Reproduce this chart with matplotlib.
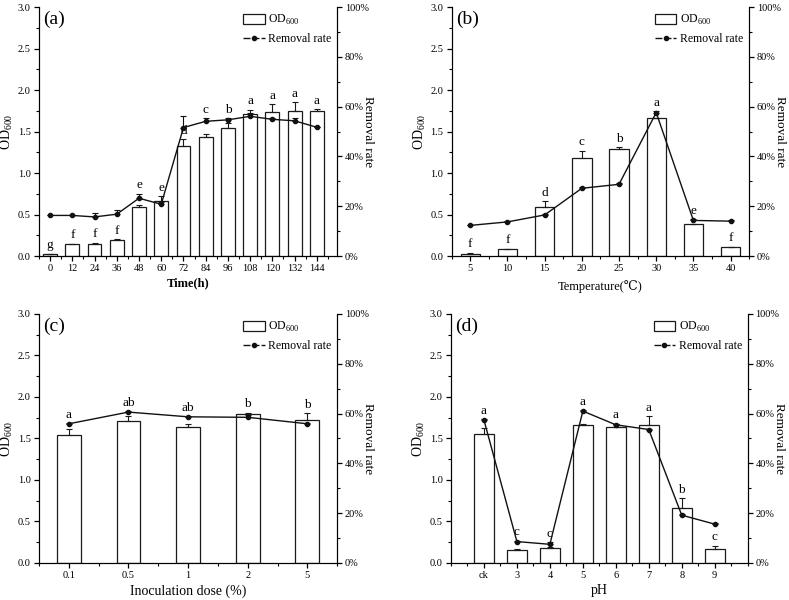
import numpy as np
import matplotlib
matplotlib.use("Agg")
import matplotlib.pyplot as plt
from matplotlib.patches import Patch
from matplotlib.lines import Line2D
from matplotlib.ticker import FuncFormatter, MultipleLocator

plt.rcParams['font.family'] = ['Liberation Serif', 'DejaVu Serif']
plt.rcParams['mathtext.fontset'] = 'custom'
plt.rcParams['mathtext.rm'] = 'Liberation Serif'

# -------------------------------
# (a) culture time
# -------------------------------
time_h = [0, 12, 24, 36, 48, 60, 72, 84, 96, 108, 120, 132, 144]
a_od = [0.02, 0.14, 0.15, 0.19, 0.59, 0.66, 1.32, 1.44, 1.54, 1.71, 1.74, 1.75, 1.75]
a_od_err = [0.005, 0.005, 0.01, 0.01, 0.025, 0.06, 0.09, 0.025, 0.06, 0.05, 0.09, 0.10, 0.02]
a_rate = [16.3, 16.3, 15.7, 16.8, 23.2, 20.8, 51.6, 54.1, 54.7, 56.1, 54.9, 54.3, 51.7]
a_rate_err = [0.3, 0.3, 1.5, 1.6, 1.9, 0.8, 4.7, 1.2, 0.7, 1.2, 0.7, 1.3, 0.3]
a_letters = ['g', 'f', 'f', 'f', 'e', 'e', 'd', 'c', 'b', 'a', 'a', 'a', 'a']

# -------------------------------
# (b) temperature
# -------------------------------
temp_c = [5, 10, 15, 20, 25, 30, 35, 40]
b_od = [0.03, 0.08, 0.59, 1.18, 1.29, 1.66, 0.39, 0.11]
b_od_err = [0.01, 0.01, 0.07, 0.09, 0.02, 0.0, 0.0, 0.0]
b_rate = [12.3, 13.7, 16.5, 27.2, 28.8, 57.6, 14.3, 14.0]
b_rate_err = [0.3, 0.4, 0.4, 0.5, 0.5, 0.5, 0.5, 0.3]
b_letters = ['f', 'f', 'd', 'c', 'b', 'a', 'e', 'f']

# -------------------------------
# (c) inoculation dose
# -------------------------------
dose_labels = ['0.1', '0.5', '1', '2', '5']
c_od = [1.54, 1.71, 1.64, 1.79, 1.72]
c_od_err = [0.075, 0.06, 0.035, 0.02, 0.085]
c_rate = [55.9, 60.6, 58.7, 58.5, 55.9]
c_rate_err = [0.3, 0.3, 0.3, 0.8, 0.5]
c_letters = ['a', 'ab', 'ab', 'b', 'b']

# -------------------------------
# (d) pH
# -------------------------------
ph_labels = ['ck', '3', '4', '5', '6', '7', '8', '9']
d_od = [1.56, 0.16, 0.18, 1.66, 1.64, 1.66, 0.66, 0.17]
d_od_err = [0.07, 0.01, 0.01, 0.01, 0.04, 0.11, 0.12, 0.04]
d_rate = [57.4, 8.6, 7.5, 61.0, 55.5, 53.6, 19.2, 15.6]
d_rate_err = [0.3, 0.4, 0.8, 0.3, 0.4, 0.3, 0.3, 0.3]
d_letters = ['a', 'c', 'c', 'a', 'a', 'a', 'b', 'c']


def pct(v, pos):
    return f"{v:.0f}%"


def draw_panel(rect, x, od, od_err, rate, rate_err, letters, width, xlim,
               minor, tag, xlabel, xlabel_kw, ticklabels=None):
    ax = fig.add_axes(rect)
    x = np.asarray(x, dtype=float)
    od = np.asarray(od)
    od_err = np.asarray(od_err)
    rate = np.asarray(rate)
    rate_err = np.asarray(rate_err)

    ax.bar(x, od, width=width, color='white', edgecolor='#1a1a1a', linewidth=0.9,
           yerr=[np.zeros_like(od_err), od_err],
           error_kw=dict(ecolor='#1a1a1a', elinewidth=0.8, capsize=2, capthick=0.8))
    ax.set_xlim(*xlim)
    ax.set_ylim(0, 3.0)
    ax.yaxis.set_major_locator(MultipleLocator(0.5))
    ax.yaxis.set_minor_locator(MultipleLocator(0.25))
    ax.yaxis.set_major_formatter(FuncFormatter(lambda v, p: f"{v:.1f}"))
    ax.set_xticks(x)
    if ticklabels is not None:
        ax.set_xticklabels(ticklabels)
    ax.xaxis.set_minor_locator(MultipleLocator(minor))
    ax.set_ylabel(r'OD$_{600}$', fontsize=10, labelpad=2)
    ax.set_xlabel(xlabel, **xlabel_kw)
    ax.spines['top'].set_visible(False)
    ax.tick_params(which='major', direction='out', length=3.5, width=0.9,
                   labelsize=7.5, pad=2.5)
    ax.tick_params(which='minor', direction='out', length=2, width=0.8)

    # significance letters above bar (or above the curve when it sits just over the bar)
    for xi, b, be, r, re, lt in zip(x, od, od_err, rate, rate_err, letters):
        bar_top = b + be
        line_top = (r + re) * 3.0 / 100
        y = line_top if bar_top <= line_top <= bar_top + 0.25 else bar_top
        ax.text(xi, y + 0.03, lt, ha='center', va='bottom', fontsize=9.5)

    ax2 = ax.twinx()
    ax2.errorbar(x, rate, yerr=[np.zeros_like(rate_err), rate_err], color='#111111',
                 linewidth=1.0, marker='o', markersize=3, elinewidth=0.8,
                 capsize=2, capthick=0.8)
    ax2.set_ylim(0, 100)
    ax2.yaxis.set_major_locator(MultipleLocator(20))
    ax2.yaxis.set_minor_locator(MultipleLocator(10))
    ax2.yaxis.set_major_formatter(FuncFormatter(pct))
    ax2.spines['top'].set_visible(False)
    ax2.tick_params(which='major', direction='out', length=3.5, width=0.9,
                    labelsize=7.5, pad=2)
    ax2.tick_params(which='minor', direction='out', length=2, width=0.8)
    ax2.set_ylabel('Removal rate', rotation=270, fontsize=9.5, labelpad=4)

    ax.text(0.015, 0.95, tag, transform=ax.transAxes, fontsize=14,
            ha='left', va='center')

    handles = [Patch(facecolor='white', edgecolor='#1a1a1a', linewidth=0.9),
               Line2D([0], [0], color='#111111', lw=1.0, marker='o', markersize=3,
                      linestyle=(0, (5, 1.5)))]
    ax2.legend(handles, [r'OD$_{600}$', 'Removal rate'], loc='upper right',
               frameon=False, fontsize=8.5, handlelength=1.8, handleheight=1.0,
               handletextpad=0.3, borderaxespad=0.1, labelspacing=0.5)
    return ax


fig = plt.figure(figsize=(7.89, 6.0), dpi=100)

draw_panel([0.0494, 0.5733, 0.378, 0.415], time_h, a_od, a_od_err, a_rate, a_rate_err,
           a_letters, 7.5, (-6, 155), 6, '(a)', 'Time(h)',
           dict(fontsize=9, fontweight='bold', labelpad=3))

draw_panel([0.5725, 0.5733, 0.377, 0.415], temp_c, b_od, b_od_err, b_rate, b_rate_err,
           b_letters, 2.6, (2.5, 42.5), 2.5, '(b)', 'Temperature(\u2103)',
           dict(fontsize=9, labelpad=5))

draw_panel([0.0494, 0.0617, 0.378, 0.415], range(len(dose_labels)), c_od, c_od_err,
           c_rate, c_rate_err, c_letters, 0.4, (-0.5, 4.5), 0.5, '(c)',
           'Inoculation dose (%)', dict(fontsize=10, labelpad=3),
           ticklabels=dose_labels)

draw_panel([0.5716, 0.0617, 0.376, 0.415], range(len(ph_labels)), d_od, d_od_err,
           d_rate, d_rate_err, d_letters, 0.6, (-1, 8), 0.5, '(d)', 'pH',
           dict(fontsize=10, labelpad=3), ticklabels=ph_labels)

fig.savefig('out.png', dpi=100)
